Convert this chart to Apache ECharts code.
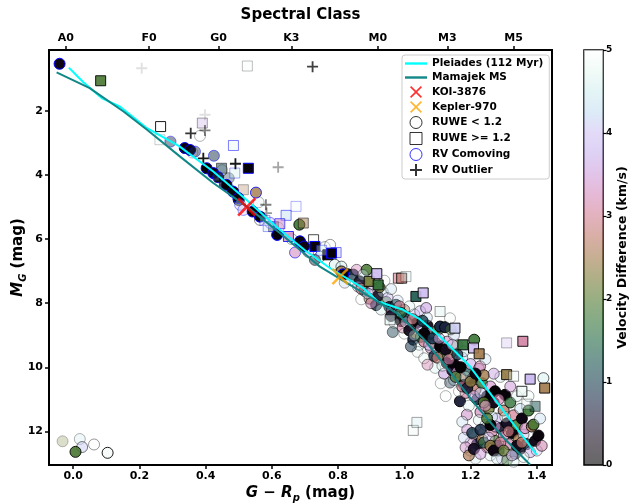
<!DOCTYPE html>
<html><head><meta charset="utf-8">
<script src="https://cdn.jsdelivr.net/npm/echarts@6/dist/echarts.min.js"></script>
<style>html,body{margin:0;padding:0;background:#fff}#c{width:634px;height:504px}</style>
</head><body><div id="c"></div>
<script>
// ---------------- DATA ----------------
const xTicks = [0, 0.2, 0.4, 0.6, 0.8, 1.0, 1.2, 1.4];
const yTicks = [2, 4, 6, 8, 10, 12];
const cbTicks = [0, 1, 2, 3, 4, 5];
const spectralClass = ['A0', 'F0', 'G0', 'K3', 'M0', 'M3', 'M5'];
const spectralColor = [-0.022, 0.229, 0.439, 0.659, 0.92, 1.13, 1.33];

const pleiadesColor = [-0.013, 0.03, 0.086, 0.142, 0.223, 0.32, 0.423, 0.524, 0.624, 0.70, 0.776, 0.876, 0.92, 0.995, 1.047, 1.108, 1.198, 1.289, 1.40];
const pleiadesMag   = [0.65, 1.1, 1.6, 1.87, 2.54, 3.1, 3.89, 4.78, 5.71, 6.35, 6.91, 7.53, 7.95, 8.2, 8.5, 9.04, 9.97, 11.22, 12.73];
const mamajekColor = [-0.05, 0.05, 0.152, 0.223, 0.322, 0.423, 0.524, 0.624, 0.745, 0.876, 0.977, 1.007, 1.057, 1.108, 1.219, 1.30, 1.38];
const mamajekMag   = [0.80, 1.29, 2.02, 2.59, 3.42, 4.25, 4.98, 5.81, 6.86, 7.68, 8.31, 8.6, 9.1, 9.75, 11.22, 12.2, 13.04];

const koi3876 = [0.524, 5.0];
const kepler970 = [0.806, 7.17];

// [G-Rp, M_G, velocity difference (km/s), membership weight]
const ruweLow = [
 [-0.032,12.31,2.2,0.25],[0.02,12.24,4.4,0.3],[0.027,12.49,4.1,0.5],[0.063,12.41,5.0,0.4],[0.007,12.64,1.9,0.9],[0.104,12.67,4.9,0.9],
 [0.383,2.78,5.0,0.3],[0.5,4.78,1.8,0.85],[0.564,5.40,5.0,0.45],[0.683,5.55,1.8,0.9],[0.36,3.3,4.7,0.25],[0.45,3.85,4.6,0.3],
 [0.47,4.1,1.0,0.35],[0.56,4.85,4.6,0.3],[0.62,5.65,4.8,0.3],[0.66,6.0,4.5,0.35],[0.71,6.4,3.5,0.4],[0.745,6.55,4.3,0.45],
 [0.76,6.25,4.8,0.35],[0.73,6.65,0.9,0.5],[0.776,6.18,4.9,0.4],
 [0.79,6.80,4.6,0.6],[0.81,6.86,4.5,0.55],[0.81,7.01,2.5,0.9],[0.83,7.10,0.2,0.95],[0.846,7.11,0.9,0.95],[0.856,6.96,3.3,0.45],
 [0.886,6.96,1.9,0.85],[0.84,7.28,4.8,0.3],[0.865,7.32,0.5,0.9],[0.86,7.48,3.8,0.4],[0.90,7.40,4.6,0.4],[0.88,7.62,1.2,0.7],
 [0.905,7.57,3.6,0.5],[0.92,7.78,0.4,0.9],[0.935,7.65,4.4,0.4],[0.895,7.86,2.6,0.8],[0.945,7.96,1.8,0.6],[0.915,8.06,0.8,0.8],
 [0.95,7.84,3.9,0.45],[0.955,8.12,0.6,0.9],[0.87,7.88,4.9,0.3],[0.82,7.36,4.2,0.35],[0.91,7.22,4.7,0.3],[0.96,7.56,4.3,0.4],
 [0.94,7.3,4.8,0.3],[0.875,7.12,4.4,0.35],
 [0.962,8.26,3.4,0.5],[0.975,8.05,1.1,0.8],[0.985,8.36,4.5,0.4],[0.99,8.56,0.2,0.95],[0.97,8.62,4.8,0.3],[1.0,8.21,2.7,0.7],
 [0.995,8.76,3.1,0.6],[0.98,7.92,4.2,0.35],[1.0,8.95,4.9,0.3],[0.965,8.9,1.0,0.45],
 [1.01,8.45,0.9,0.85],[1.02,8.70,3.3,0.6],[1.027,9.14,0.7,0.9],[1.03,8.35,4.0,0.45],[1.035,8.95,2.4,0.8],[1.04,8.60,0.1,1.0],
 [1.045,9.30,4.5,0.4],[1.05,8.80,3.7,0.5],[1.05,9.05,1.6,0.8],[1.04,9.52,4.7,0.3],[1.02,9.35,0.9,0.55],[1.015,8.1,4.6,0.35],
 [1.048,8.25,3.8,0.45],
 [1.066,8.15,3.6,0.6],[1.06,9.2,3.0,0.7],[1.07,8.70,0.3,0.95],[1.078,9.04,0.2,1.0],[1.08,9.40,3.4,0.6],[1.085,8.90,4.1,0.5],
 [1.09,9.65,0.8,0.8],[1.093,10.02,4.5,0.3],[1.095,9.25,2.6,0.8],[1.1,8.85,1.9,0.7],[1.06,9.72,4.7,0.35],[1.07,9.92,3.2,0.45],
 [1.1,9.45,4.0,0.5],[1.068,8.45,4.3,0.4],
 [1.108,8.73,0.8,1.0],[1.123,8.75,0.7,1.0],[1.108,9.35,0.1,1.0],[1.118,9.64,1.8,0.85],[1.128,9.87,0.2,1.0],[1.138,8.47,4.8,0.3],
 [1.12,10.2,3.6,0.6],[1.13,9.2,3.3,0.6],[1.14,9.55,2.5,0.8],[1.145,10.1,0.6,0.9],[1.15,10.4,4.4,0.45],[1.15,9.0,4.2,0.45],
 [1.11,10.5,4.8,0.3],[1.138,10.48,0.9,0.4],[1.125,10.9,4.9,0.3],[1.14,8.82,1.9,0.4],
 [1.153,9.92,0.1,1.0],[1.16,10.15,3.4,0.7],[1.168,11.06,0.6,0.95],[1.17,10.3,2.6,0.8],[1.175,9.7,4.1,0.5],[1.18,10.55,0.3,1.0],
 [1.185,10.8,3.1,0.7],[1.189,11.48,3.4,0.6],[1.19,10.1,1.2,0.7],[1.195,11.2,4.6,0.35],[1.2,9.9,3.7,0.6],[1.16,9.32,2.0,0.4],
 [1.175,11.7,4.3,0.4],[1.19,11.95,3.5,0.5],[1.165,10.75,4.9,0.3],[1.18,9.5,4.4,0.45],
 [1.205,10.35,0.2,1.0],[1.211,9.14,1.8,0.9],[1.215,10.7,2.8,0.8],[1.22,11.0,0.8,0.9],[1.225,10.05,3.9,0.6],[1.229,9.97,3.2,0.6],
 [1.23,11.4,3.3,0.7],[1.235,10.5,1.7,0.8],[1.24,10.25,2.5,0.8],[1.245,11.8,4.2,0.5],[1.25,10.9,0.1,1.0],[1.21,12.1,3.6,0.5],
 [1.22,12.4,0.7,0.95],[1.235,12.25,2.5,0.85],[1.25,12.5,3.0,0.7],[1.2,12.6,4.2,0.4],[1.215,12.85,4.4,0.3],[1.24,12.05,4.8,0.4],
 [1.225,11.65,4.6,0.4],[1.245,9.75,4.3,0.4],[1.2,12.35,3.4,0.45],
 [1.255,11.3,2.2,0.8],[1.26,10.6,3.4,0.65],[1.265,12.0,3.1,0.7],[1.27,11.1,0.3,1.0],[1.274,10.75,0.05,1.0],[1.275,12.3,2.0,0.7],
 [1.28,11.6,3.9,0.6],[1.285,12.6,1.1,0.7],[1.29,10.3,4.6,0.4],[1.29,11.9,0.5,0.9],[1.295,12.85,4.0,0.35],[1.26,12.75,4.6,0.3],
 [1.28,12.45,0.9,0.8],[1.3,11.35,2.7,0.8],[1.304,10.86,0.1,1.0],[1.3,12.15,3.3,0.7],[1.265,11.55,4.5,0.4],[1.27,10.2,3.6,0.5],
 [1.285,11.0,3.2,0.65],
 [1.31,11.75,0.4,1.0],[1.315,12.4,3.2,0.7],[1.32,11.1,1.7,0.8],[1.325,12.05,0.2,1.0],[1.33,11.5,3.0,0.7],[1.335,12.7,1.2,0.6],
 [1.34,11.8,1.9,0.85],[1.345,12.25,2.5,0.8],[1.35,11.3,4.3,0.5],[1.35,12.55,0.5,0.9],[1.32,10.6,3.5,0.55],[1.31,12.9,1.8,0.45],
 [1.34,10.9,4.6,0.4],[1.33,12.95,4.5,0.3],
 [1.355,11.6,0.2,1.0],[1.36,12.1,4.0,0.5],[1.365,11.9,3.3,0.7],[1.37,12.4,0.9,0.8],[1.375,11.35,1.8,0.9],[1.38,12.65,3.7,0.5],
 [1.385,11.85,2.6,0.85],[1.39,11.79,1.9,0.9],[1.395,12.3,0.3,1.0],[1.405,12.13,0.15,1.0],[1.40,12.6,4.1,0.4],[1.41,11.6,4.3,0.45],
 [1.42,10.34,4.6,0.6],[1.415,12.45,3.2,0.6],[1.36,12.8,4.7,0.35],[1.375,10.9,4.8,0.35],
 [0.87,7.55,2.9,0.6],[0.89,7.7,4.1,0.45],[0.9,8.0,3.3,0.5],[0.925,7.5,2.2,0.7],[0.93,8.2,4.5,0.35],[0.96,8.4,0.4,0.9],
 [0.985,8.1,3.0,0.6],[0.99,8.3,1.5,0.7],[1.005,8.6,4.2,0.45],[1.015,8.85,0.3,0.95],[1.025,8.5,2.9,0.65],[1.03,9.0,4.4,0.4],
 [1.055,8.55,1.0,0.8],[1.06,8.95,0.1,1.0],[1.075,9.3,3.8,0.5],[1.085,9.1,0.9,0.85],[1.1,9.7,2.8,0.7],[1.105,9.1,3.6,0.55],
 [1.115,9.95,4.6,0.4],[1.125,9.45,0.3,1.0],[1.135,9.75,3.2,0.6],[1.145,9.3,4.0,0.5],[1.155,10.3,1.9,0.75],[1.16,9.6,0.9,0.8],
 [1.17,10.0,0.05,1.0],[1.175,10.6,3.0,0.65],[1.185,10.3,4.5,0.4],[1.19,10.65,0.6,0.9],[1.2,10.45,2.4,0.8],[1.21,10.9,3.7,0.55],
 [1.215,10.2,0.2,1.0],[1.23,10.8,4.1,0.5],[1.24,11.1,2.0,0.8],[1.18,12.2,4.2,0.4],[1.185,12.5,3.4,0.5],[1.195,12.75,2.6,0.7],
 [1.205,12.05,1.0,0.8],[1.21,12.55,0.4,0.95],[1.23,12.7,3.5,0.5],[1.24,12.35,1.4,0.7],[1.255,12.2,4.0,0.45],[1.26,12.45,2.4,0.8],
 [1.27,12.6,0.2,1.0],[1.275,11.85,3.5,0.6],[1.28,12.85,4.4,0.35],[1.29,12.35,3.0,0.65],[1.3,12.6,2.1,0.75],[1.305,11.55,4.7,0.35],
 [1.315,12.0,2.9,0.7],[1.325,12.75,3.6,0.5],[1.34,12.45,0.3,1.0],[1.355,12.35,2.8,0.7],[1.26,11.8,0.1,1.0],[1.25,11.6,1.9,0.8],
 [1.23,11.95,0.8,0.85],[1.245,11.2,3.3,0.6]
];
const ruweHigh = [
 [0.083,1.06,1.9,0.9],[0.526,0.60,4.9,0.25],[0.264,2.49,5.0,0.9],[0.39,2.38,3.7,0.35],[0.262,2.9,4.8,0.2],
 [0.448,3.79,1.0,0.5],[0.514,4.46,2.6,0.3],[0.695,5.50,2.5,0.5],[0.726,6.02,5.0,0.7],[0.605,5.61,0.9,0.5],
 [0.769,6.49,0.1,1.0],[0.894,7.32,2.2,0.9],[0.921,7.43,1.7,0.9],[0.917,7.08,3.9,0.9],[0.982,7.22,3.0,0.6],
 [0.992,7.22,2.8,0.8],[1.005,7.17,4.5,0.3],[1.035,7.79,1.3,0.9],[1.057,7.68,3.9,0.9],[0.957,8.52,4.6,0.5],
 [1.108,8.26,4.6,0.4],[1.153,8.78,4.1,0.9],[1.177,9.30,1.7,0.9],[1.209,9.40,3.9,0.9],[1.226,9.58,2.5,0.9],
 [1.309,9.24,3.8,0.3],[1.358,9.19,3.1,0.9],[1.309,10.23,2.4,0.9],[1.33,10.28,4.8,0.4],[1.38,10.37,3.8,0.9],
 [1.424,10.65,2.5,0.9],[1.355,10.75,4.8,0.8],[1.395,11.22,1.2,0.5],[1.37,11.15,4.7,0.3],[1.027,11.97,4.8,0.4],
 [1.038,11.72,4.5,0.35]
];
const rvComovingCircles = [
 [-0.041,0.53,0.2,1.0],[0.294,2.96,0.8,0.45],[0.337,3.16,0.1,1.0],[0.353,3.22,0.15,1.0],[0.368,3.27,0.8,0.45],
 [0.425,3.40,0.9,0.5],[0.403,3.79,0.05,1.0],[0.423,3.94,0.2,1.0],[0.438,4.07,0.6,0.9],[0.463,4.31,0.1,1.0],
 [0.483,4.52,0.15,1.0],[0.499,4.72,0.2,1.0],[0.552,4.55,2.5,0.8],[0.504,4.93,4.0,0.4],[0.514,5.09,4.1,0.4],
 [0.542,5.14,0.1,1.0],[0.564,5.30,0.05,1.0],[0.594,5.49,3.9,0.45],[0.616,5.87,0.1,1.0],[0.685,6.07,0.1,1.0],
 [0.697,6.23,0.2,1.0],[0.67,6.42,3.3,0.6],[0.815,7.1,0.1,1.0]
];
const rvComovingSquares = [
 [0.484,3.08,4.8,0.5],[0.529,3.79,0.1,1.0],[0.488,3.94,4.5,0.35],[0.673,4.98,4.8,0.3],[0.643,5.26,4.3,0.5],
 [0.579,5.42,4.2,0.35],[0.589,5.61,4.3,0.35],[0.624,5.52,3.4,0.6],[0.65,5.92,3.3,0.8],[0.73,6.23,0.1,1.0],
 [0.794,6.42,4.1,0.5],[0.78,6.44,0.1,1.0],[0.75,6.35,4.5,0.35]
];
// [G-Rp, M_G, weight]
const rvOutliers = [
 [0.207,0.67,0.12],[0.723,0.62,0.75],[0.398,2.12,0.12],[0.355,2.70,0.8],[0.398,2.61,0.5],[0.393,3.48,0.9],
 [0.49,3.65,0.9],[0.619,3.76,0.35],[0.443,4.20,0.7],[0.468,4.36,0.6],[0.582,4.93,0.5],[0.584,5.19,0.4]
];

// ---------------- CHART ----------------
const xMin = -0.073, xMax = 1.446, yMin = 0.1, yMax = 13.05;
const F = 'DejaVu Sans';
const helix = [[0,0,0],[18,8,23],[26,21,48],[26,39,68],[22,61,78],[22,83,76],[31,102,66],[52,115,53],[84,121,47],
  [122,122,53],[160,121,73],[190,121,106],[208,126,147],[212,138,186],[207,156,218],[199,179,237],[209,194,243],
  [197,222,242],[210,238,239],[232,248,242],[255,255,255]];
const helixHex = helix.map(c => 'rgb(' + c.join(',') + ')');
const cbStops = helix.map((c, i) => ({offset: i / (helix.length - 1), color: 'rgba(' + c.join(',') + ',0.6)'}));
const X_PATH = 'path://M0,2L2,0L10,8L18,0L20,2L12,10L20,18L18,20L10,12L2,20L0,18L8,10Z';
const PLUS_PATH = 'path://M5,0H7V5H12V7H7V12H5V7H0V5H5Z';
const LINE_PATH = 'path://M0,0H22V2.4H0Z';
const SQUARE_PATH = 'path://M0,0H10V10H0Z';
const bold = {fontFamily: F, fontWeight: 'bold', color: '#000'};
const richLabel = {
  i: {fontFamily: F, fontWeight: 'bold', fontStyle: 'italic', fontSize: 15, lineHeight: 20},
  sub: {fontFamily: F, fontWeight: 'bold', fontStyle: 'italic', fontSize: 10, lineHeight: 12, verticalAlign: 'bottom'}
};
const noLine = {show: false, onZero: false};
const tickStyle = {color: '#000', width: 1.5};

const chart = echarts.init(document.getElementById('c'));
chart.setOption({
  animation: false,
  backgroundColor: '#fff',
  grid: [
    {left: 49, top: 50, width: 503, height: 415, show: true, borderColor: '#000', borderWidth: 2, containLabel: false, outerBoundsMode: 'none'},
    {left: 584, top: 50, width: 19, height: 415, show: true, borderColor: '#000', borderWidth: 1.5, containLabel: false, outerBoundsMode: 'none'}
  ],
  xAxis: [
    {gridIndex: 0, type: 'value', min: xMin, max: xMax, position: 'bottom',
     axisLine: noLine, splitLine: {show: false},
     axisTick: {show: true, inside: false, customValues: xTicks, length: 4, lineStyle: tickStyle},
     axisLabel: Object.assign({customValues: xTicks, formatter: v => v.toFixed(1), fontSize: 11, margin: 6}, bold),
     name: '{i|G} − {i|R}{sub|p} (mag)', nameLocation: 'middle', nameGap: 18, nameMoveOverlap: false,
     nameTextStyle: Object.assign({fontSize: 15, lineHeight: 20, rich: richLabel}, bold)},
    {gridIndex: 0, type: 'value', min: xMin, max: xMax, position: 'top',
     axisLine: noLine, splitLine: {show: false},
     axisTick: {show: true, inside: false, customValues: spectralColor, length: 4, lineStyle: tickStyle},
     axisLabel: Object.assign({customValues: spectralColor, fontSize: 11, margin: 6,
        formatter: v => { let b = 0; spectralColor.forEach((c, i) => { if (Math.abs(c - v) < Math.abs(spectralColor[b] - v)) b = i; }); return spectralClass[b]; }}, bold),
     name: 'Spectral Class', nameLocation: 'middle', nameGap: 27, nameMoveOverlap: false,
     nameTextStyle: Object.assign({fontSize: 15}, bold)},
    {gridIndex: 1, type: 'category', data: ['cb'], show: false}
  ],
  yAxis: [
    {gridIndex: 0, type: 'value', inverse: true, min: yMin, max: yMax,
     axisLine: noLine, splitLine: {show: false},
     axisTick: {show: true, inside: false, customValues: yTicks, length: 4, lineStyle: tickStyle},
     axisLabel: Object.assign({customValues: yTicks, fontSize: 11, margin: 6}, bold),
     name: '{i|M}{sub|G} (mag)', nameLocation: 'middle', nameGap: 21, nameRotate: 90, nameMoveOverlap: false,
     nameTextStyle: Object.assign({fontSize: 15, lineHeight: 20, rich: richLabel}, bold)},
    {gridIndex: 1, type: 'value', min: cbTicks[0], max: cbTicks[cbTicks.length - 1], interval: 1, position: 'right',
     axisLine: noLine, splitLine: {show: false},
     axisTick: {show: true, inside: false, length: 3.5, lineStyle: {color: '#000', width: 1.2}},
     axisLabel: Object.assign({fontSize: 9, margin: 3}, bold),
     name: 'Velocity Difference (km/s)', nameLocation: 'middle', nameGap: 11, nameRotate: 90,
     nameTextStyle: Object.assign({fontSize: 12.5}, bold)}
  ],
  visualMap: [
    {type: 'continuous', show: false, seriesIndex: [0, 1, 2, 3], dimension: 2, min: 0, max: 5, inRange: {color: helixHex}},
    {type: 'continuous', show: false, seriesIndex: [0, 1, 2, 3], dimension: 3, min: 0, max: 1, inRange: {opacity: [0, 1]}},
    {type: 'continuous', show: false, seriesIndex: [4], dimension: 2, min: 0, max: 1, inRange: {opacity: [0, 1]}}
  ],
  legend: {
    orient: 'vertical', left: 402, top: 55, padding: [3, 6, 3, 3], itemGap: 3, itemWidth: 22, itemHeight: 12,
    backgroundColor: 'rgba(255,255,255,0.85)', borderColor: '#cccccc', borderWidth: 1, borderRadius: 3,
    selectedMode: false, symbolKeepAspect: true, textStyle: Object.assign({fontSize: 10.5}, bold),
    data: [
      {name: 'Pleiades (112 Myr)', icon: LINE_PATH, itemStyle: {color: '#00ffff', borderWidth: 0}},
      {name: 'Mamajek MS', icon: LINE_PATH, itemStyle: {color: '#128787', borderWidth: 0}},
      {name: 'KOI-3876', icon: X_PATH, itemStyle: {color: '#ff0000', borderWidth: 0}},
      {name: 'Kepler-970', icon: X_PATH, itemStyle: {color: '#ffa500', borderWidth: 0}},
      {name: 'RUWE < 1.2', icon: 'circle', itemStyle: {color: 'rgba(255,255,255,0)', borderColor: '#000', borderWidth: 1}},
      {name: 'RUWE >= 1.2', icon: SQUARE_PATH, itemStyle: {color: 'rgba(255,255,255,0)', borderColor: '#000', borderWidth: 1}},
      {name: 'RV Comoving', icon: 'circle', itemStyle: {color: 'rgba(255,255,255,0)', borderColor: '#0000ff', borderWidth: 1}},
      {name: 'RV Outlier', icon: PLUS_PATH, itemStyle: {color: '#000', borderWidth: 0}}
    ]
  },
  series: [
    {name: 'RUWE < 1.2', type: 'scatter', data: ruweLow, symbol: 'circle', symbolSize: 11,
     itemStyle: {borderColor: '#000', borderWidth: 1}, z: 2},
    {name: 'RUWE >= 1.2', type: 'scatter', data: ruweHigh, symbol: 'rect', symbolSize: 10,
     itemStyle: {borderColor: '#000', borderWidth: 1}, z: 2},
    {name: 'RV Comoving', type: 'scatter', data: rvComovingCircles, symbol: 'circle', symbolSize: 11,
     itemStyle: {borderColor: '#0000ff', borderWidth: 1}, z: 2},
    {name: 'RV Comoving', type: 'scatter', data: rvComovingSquares, symbol: 'rect', symbolSize: 10,
     itemStyle: {borderColor: '#0000ff', borderWidth: 1}, z: 2},
    {name: 'RV Outlier', type: 'scatter', data: rvOutliers, symbol: PLUS_PATH, symbolSize: 11,
     itemStyle: {color: '#000'}, z: 3},
    {name: 'Pleiades (112 Myr)', type: 'line', data: pleiadesColor.map((x, i) => [x, pleiadesMag[i]]),
     symbol: 'none', lineStyle: {color: '#00ffff', width: 2}, itemStyle: {color: '#00ffff'}, z: 4},
    {name: 'Mamajek MS', type: 'line', data: mamajekColor.map((x, i) => [x, mamajekMag[i]]),
     symbol: 'none', lineStyle: {color: '#128787', width: 2}, itemStyle: {color: '#128787'}, z: 4},
    {name: 'KOI-3876', type: 'scatter', data: [koi3876], symbol: X_PATH, symbolSize: 19,
     itemStyle: {color: '#ff0000'}, z: 5},
    {name: 'Kepler-970', type: 'scatter', data: [kepler970], symbol: X_PATH, symbolSize: 17,
     itemStyle: {color: '#ffa500'}, z: 5},
    {type: 'bar', xAxisIndex: 2, yAxisIndex: 1, data: [cbTicks[cbTicks.length - 1]], barWidth: '100%', silent: true,
     itemStyle: {color: new echarts.graphic.LinearGradient(0, 1, 0, 0, cbStops)}}
  ]
});
</script></body></html>
